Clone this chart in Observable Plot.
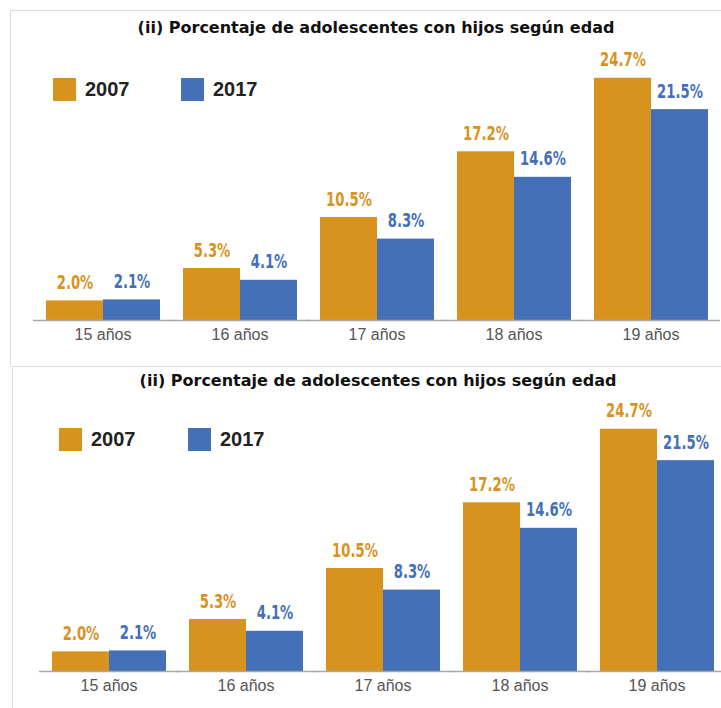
<!DOCTYPE html>
<html><head><meta charset="utf-8">
<script src="https://cdn.jsdelivr.net/npm/d3@7"></script>
<script src="https://cdn.jsdelivr.net/npm/@observablehq/plot@0.6"></script>
<style>
body{margin:0;background:#fff;width:721px;height:708px;overflow:hidden;position:relative;font-family:"Liberation Sans",Arial,sans-serif;}
.panel{position:absolute;border-top:1px solid #dcdcdc;border-left:1px solid #dcdcdc;}
.title{position:absolute;left:0;width:730px;text-align:center;font-family:"DejaVu Sans",sans-serif;font-weight:bold;font-size:16px;line-height:18px;color:#111;}
.sw{position:absolute;width:23px;height:23px;}
.lt{position:absolute;font-weight:bold;font-size:20px;color:#222;line-height:23px;}
.chart{position:absolute;}
</style></head><body>
<script>
const title = "(ii) Porcentaje de adolescentes con hijos según edad";
const ages = ["15 años","16 años","17 años","18 años","19 años"];
const years = ["2007","2017"];
const values2007 = [2.0,5.3,10.5,17.2,24.7];
const values2017 = [2.1,4.1,8.3,14.6,21.5];
const labels2007 = ["2.0%","5.3%","10.5%","17.2%","24.7%"];
const labels2017 = ["2.1%","4.1%","8.3%","14.6%","21.5%"];
const colors = ["#D8931F","#4470B7"];

const data = ages.flatMap((age,i)=>[
  {age, year:years[0], value: values2007[i], label: labels2007[i]},
  {age, year:years[1], value: values2017[i], label: labels2017[i]}
]);

function chart(){
  const svg = Plot.plot({
    width:711, height:310, marginLeft:22, marginRight:2, marginTop:20, marginBottom:35,
    fx:{domain:ages, paddingInner:0.16, paddingOuter:0.085, label:null},
    x:{domain:years, padding:0, axis:null},
    y:{domain:[0,26], axis:null},
    color:{domain:years, range:colors},
    style:{fontFamily:"Liberation Sans, Arial, sans-serif", fontSize:"16px", color:"#555", background:"transparent", overflow:"visible"},
    marks:[
      Plot.barY(data,{fx:"age", x:"year", y:"value", fill:"year"}),
      Plot.text(data,{fx:"age", x:"year", y:"value", text:"label", fill:"year", lineAnchor:"bottom", dy:-12,
        fontSize:20, fontWeight:"bold", fontFamily:"DejaVu Sans, sans-serif"}),
      Plot.ruleY([0],{stroke:"#a8a8a8", strokeWidth:1.5, insetLeft:-12, insetRight:-12}),
      Plot.axisFx({anchor:"bottom", tickSize:0, tickPadding:8, label:null, fill:"#555", fontSize:16})
    ]
  });
  // condense the value labels horizontally
  d3.select(svg).selectAll('g[aria-label="text"] text').each(function(){
    const t = this.getAttribute("transform") || "";
    this.setAttribute("transform", t + " scale(0.66,1)");
  });
  return svg;
}

function panel(cfg){
  const p = document.createElement("div");
  p.className = "panel";
  Object.assign(p.style,{left:cfg.left+"px", top:cfg.top+"px", width:"740px", height:cfg.h+"px"});
  const t = document.createElement("div");
  t.className="title"; t.textContent=title; t.style.top=cfg.titleTop+"px";
  p.appendChild(t);
  const c = document.createElement("div");
  c.className="chart"; c.style.left=cfg.chartLeft+"px"; c.style.top=cfg.chartTop+"px";
  c.appendChild(chart());
  p.appendChild(c);
  years.forEach((y,i)=>{
    const s=document.createElement("div"); s.className="sw";
    s.style.background=colors[i]; s.style.left=cfg.legX[i]+"px"; s.style.top=cfg.legTop+"px";
    const l=document.createElement("div"); l.className="lt"; l.textContent=y;
    l.style.left=(cfg.legX[i]+32)+"px"; l.style.top=cfg.legTop+"px";
    p.appendChild(s); p.appendChild(l);
  });
  document.body.appendChild(p);
}

panel({left:10, top:10, h:356, titleTop:8, chartLeft:0, chartTop:34, legX:[42,170], legTop:67});
panel({left:12, top:366, h:342, titleTop:5, chartLeft:4, chartTop:29, legX:[46,175], legTop:61});
</script>
</body></html>
